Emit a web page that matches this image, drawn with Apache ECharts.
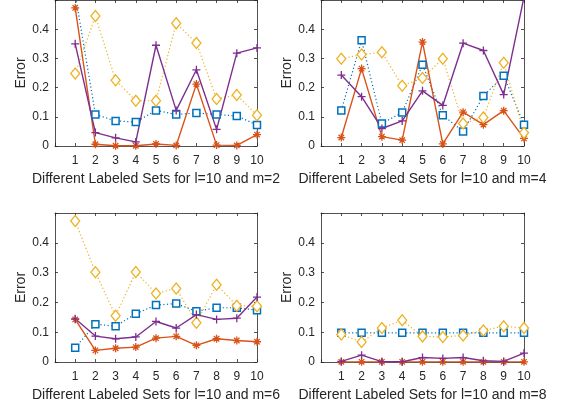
<!DOCTYPE html>
<html><head><meta charset="utf-8">
<script src="https://cdn.jsdelivr.net/npm/echarts@6/dist/echarts.min.js"></script>
<style>html,body{margin:0;padding:0;background:#fff}#c{width:570px;height:413px}</style>
</head><body><div id="c"></div>
<script>
const xs = [1,2,3,4,5,6,7,8,9,10];
const yTicks = [0, 0.1, 0.2, 0.3, 0.4];
const titles = ['Different Labeled Sets for l=10 and m=2','Different Labeled Sets for l=10 and m=4','Different Labeled Sets for l=10 and m=6','Different Labeled Sets for l=10 and m=8'];

// m=2
const blue2   = [0.52,0.108,0.086,0.082,0.122,0.108,0.113,0.108,0.103,0.072];
const orange2 = [0.473,0.006,0.001,0.001,0.007,0.002,0.212,0.003,0.002,0.039];
const yellow2 = [0.248,0.445,0.225,0.155,0.155,0.42,0.353,0.161,0.175,0.105];
const purple2 = [0.35,0.046,0.028,0.014,0.345,0.122,0.261,0.057,0.318,0.336];
// m=4
const blue4   = [0.122,0.362,0.077,0.115,0.278,0.105,0.05,0.171,0.241,0.073];
const orange4 = [0.029,0.265,0.032,0.02,0.356,0.007,0.116,0.073,0.121,0.026];
const yellow4 = [0.299,0.313,0.321,0.206,0.233,0.299,0.077,0.098,0.285,0.045];
const purple4 = [0.243,0.169,0.06,0.086,0.189,0.139,0.352,0.327,0.176,0.51];
// m=6
const blue6   = [0.048,0.127,0.12,0.162,0.191,0.196,0.17,0.182,0.182,0.174];
const orange6 = [0.143,0.039,0.046,0.05,0.08,0.086,0.056,0.078,0.072,0.068];
const yellow6 = [0.473,0.301,0.155,0.302,0.23,0.247,0.132,0.259,0.189,0.187];
const purple6 = [0.145,0.087,0.078,0.084,0.136,0.114,0.159,0.143,0.147,0.218];
// m=8
const blue8   = [0.098,0.098,0.098,0.098,0.098,0.098,0.098,0.098,0.098,0.098];
const orange8 = [0.0005,0.0005,0.0005,0.0005,0.0005,0.0005,0.0005,0.0005,0.0005,0.0005];
const yellow8 = [0.092,0.067,0.114,0.14,0.086,0.084,0.089,0.106,0.12,0.114];
const purple8 = [0.002,0.023,0.001,0.001,0.015,0.012,0.015,0.004,0.002,0.03];

const panels = [
  [blue2, orange2, yellow2, purple2],
  [blue4, orange4, yellow4, purple4],
  [blue6, orange6, yellow6, purple6],
  [blue8, orange8, yellow8, purple8]
];

const C = {blue:'#0072BD', orange:'#D95319', yellow:'#EDB120', purple:'#7E2F8E'};
const axisCol = '#262626';
const FONT = 'Liberation Sans, Arial, Helvetica, sans-serif';
const plusPath = 'path://M5,0L5,10M0,5L10,5';
const starPath = 'path://M5,0L5,10M0,5L10,5M1.6,1.6L8.4,8.4M8.4,1.6L1.6,8.4';

const grids = [
  {left:55, top:-2, width:202, height:148},
  {left:321, top:-2, width:203, height:148},
  {left:55, top:213, width:202, height:149},
  {left:321, top:213, width:203, height:149}
];

const xAxis = [], yAxis = [], series = [];
grids.forEach((g, i) => {
  const tick = {show:true, inside:true, length:3, lineStyle:{color:axisCol, width:0.8}};
  const line = {show:true, onZero:false, lineStyle:{color:axisCol, width:0.8}};
  xAxis.push({type:'value', gridIndex:i, min:0, max:10, interval:1, position:'bottom',
    axisLine:line, axisTick:tick, splitLine:{show:false},
    axisLabel:{color:axisCol, fontSize:12, fontFamily:FONT, margin:9, formatter:v => (v===0?'':String(v))},
    name:titles[i], nameLocation:'middle', nameGap:26,
    nameTextStyle:{color:axisCol, fontSize:14, fontFamily:FONT}});
  xAxis.push({type:'value', gridIndex:i, min:0, max:10, interval:1, position:'top',
    axisLine:line, axisTick:tick, splitLine:{show:false}, axisLabel:{show:false}});
  yAxis.push({type:'value', gridIndex:i, min:0, max:0.5, interval:0.1, position:'left',
    axisLine:line, axisTick:tick, splitLine:{show:false},
    axisLabel:{color:axisCol, fontSize:12, fontFamily:FONT, margin:6,
      formatter:v => (v===0?'0':(v>0.45?'':v.toFixed(1)))},
    name:'Error', nameLocation:'middle', nameGap:26,
    nameTextStyle:{color:axisCol, fontSize:14, fontFamily:FONT}});
  yAxis.push({type:'value', gridIndex:i, min:0, max:0.5, interval:0.1, position:'right',
    axisLine:line, axisTick:tick, splitLine:{show:false}, axisLabel:{show:false}});

  const [b, o, yv, p] = panels[i];
  const mk = (vals) => xs.map((x, k) => [x, vals[k]]);
  const base = {type:'line', xAxisIndex:2*i, yAxisIndex:2*i, animation:false, silent:true, showAllSymbol:true};
  series.push(Object.assign({}, base, {data:mk(b), symbol:'rect', symbolSize:7,
    lineStyle:{color:C.blue, width:1.2, type:[1.2,2.4]},
    itemStyle:{color:'#fff', borderColor:C.blue, borderWidth:1.5}}));
  series.push(Object.assign({}, base, {data:mk(o), symbol:starPath, symbolSize:8,
    lineStyle:{color:C.orange, width:1.4},
    itemStyle:{color:'none', borderColor:C.orange, borderWidth:1.3}}));
  series.push(Object.assign({}, base, {data:mk(yv), symbol:'diamond', symbolSize:[9,11],
    lineStyle:{color:C.yellow, width:1.2, type:[1.2,2.4]},
    itemStyle:{color:'#fff', borderColor:C.yellow, borderWidth:1.3}}));
  series.push(Object.assign({}, base, {data:mk(p), symbol:plusPath, symbolSize:8,
    lineStyle:{color:C.purple, width:1.4},
    itemStyle:{color:'none', borderColor:C.purple, borderWidth:1.3}}));
});

const chart = echarts.init(document.getElementById('c'), null, {renderer:'canvas'});
chart.setOption({backgroundColor:'#fff', animation:false, grid:grids, xAxis, yAxis, series});
</script></body></html>
